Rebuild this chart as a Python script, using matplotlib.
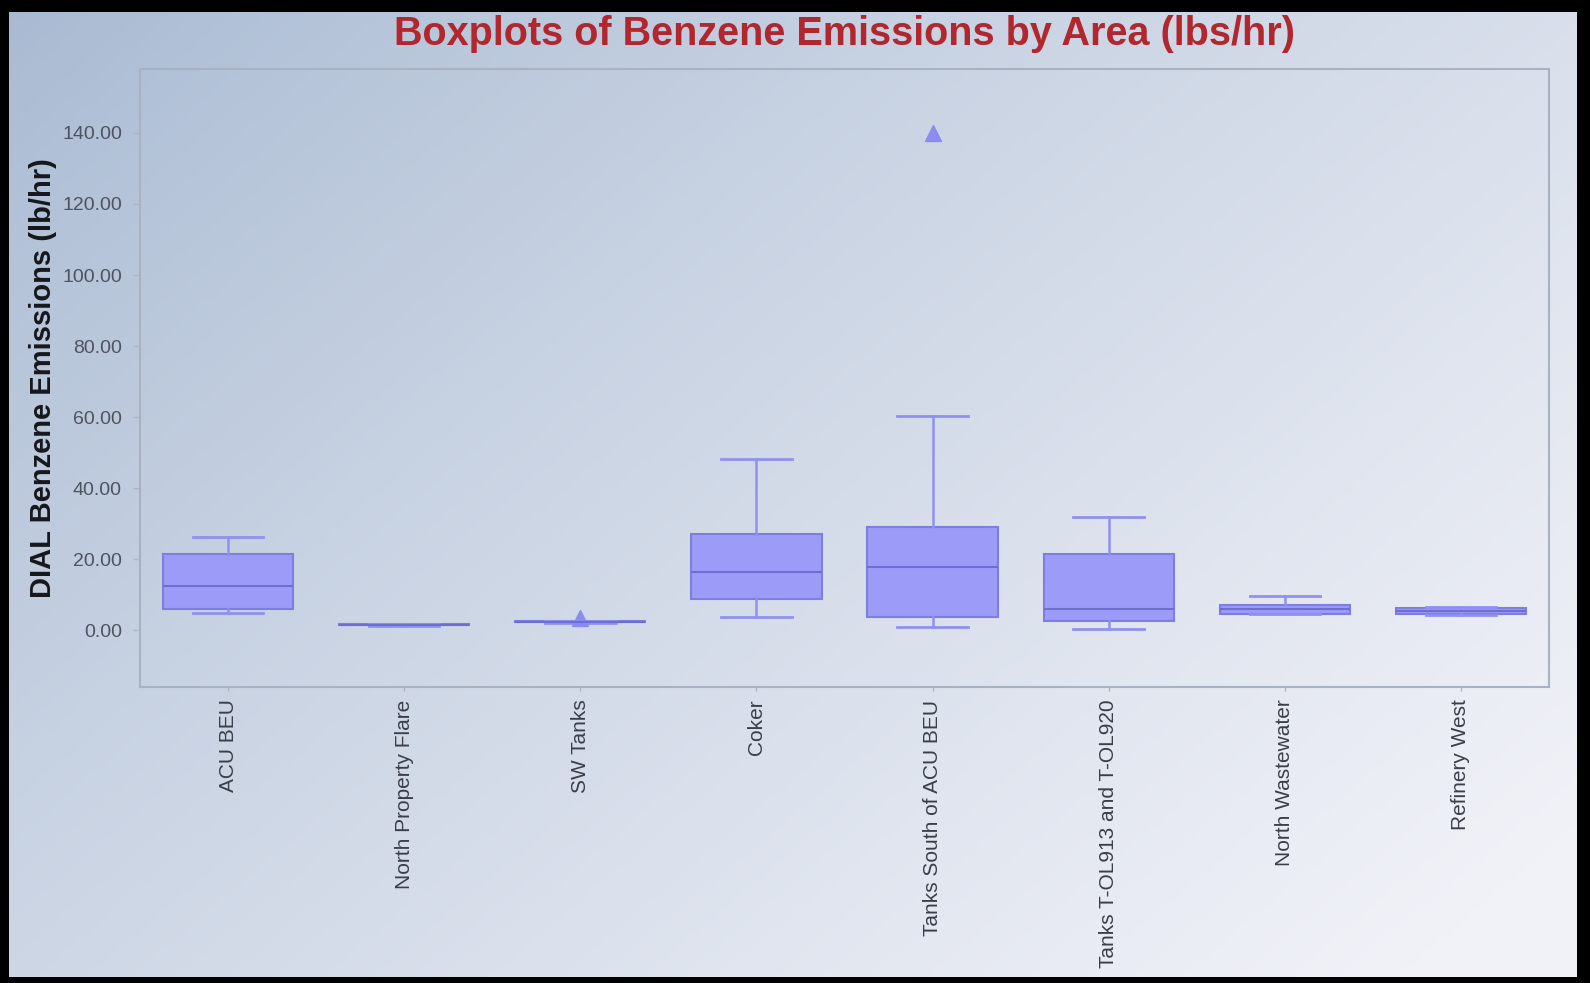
import numpy as np
import matplotlib
matplotlib.use("Agg")
import matplotlib.pyplot as plt

# ---- data ----
areas = ["ACU BEU", "North Property Flare", "SW Tanks", "Coker",
         "Tanks South of ACU BEU", "Tanks T-OL913 and T-OL920",
         "North Wastewater", "Refinery West"]
whisker_low = [4.8, 1.3, 2.1, 3.7, 0.9, 0.3, 4.6, 4.4]
q1 = [6.0, 1.4, 2.2, 8.8, 3.7, 2.6, 4.6, 4.5]
median = [12.5, 1.5, 2.3, 16.3, 17.7, 6.0, 6.0, 5.4]
q3 = [21.4, 1.6, 2.5, 27.1, 29.1, 21.4, 7.1, 6.2]
whisker_high = [26.2, 1.7, 2.6, 48.2, 60.4, 31.9, 9.7, 6.6]
outliers = [[], [], [3.3], [], [140.0], [], [], []]
yticks = [0, 20, 40, 60, 80, 100, 120, 140]

title = "Boxplots of Benzene Emissions by Area (lbs/hr)"
ylabel = "DIAL Benzene Emissions (lb/hr)"

plt.rcParams['font.family'] = ['Liberation Sans', 'DejaVu Sans']

W, H = 1590, 983
fig = plt.figure(figsize=(W / 100, H / 100), dpi=100, facecolor="black")

# gradient background panel (inside a thin black frame)
x0, x1 = 9 / W, 1577 / W
y0, y1 = 1 - 977 / H, 1 - 12 / H
bg = fig.add_axes([x0, y0, x1 - x0, y1 - y0], zorder=0)
bg.set_axis_off()
nx, ny = 300, 200
gx = np.linspace(0, 1, nx)[None, :]
gy = np.linspace(0, 1, ny)[:, None]  # 0 = top
t = np.clip(0.62 * gx + 0.45 * gy, 0, 1) ** 0.85
c_dark = np.array([0xa8, 0xba, 0xd2]) / 255
c_light = np.array([0xf1, 0xf2, 0xf8]) / 255
img = c_dark[None, None, :] * (1 - t[..., None]) + c_light[None, None, :] * t[..., None]
bg.imshow(img, aspect="auto", extent=[0, 1, 0, 1], origin="upper")
bg.set_xlim(0, 1)
bg.set_ylim(0, 1)

# main axes
ax = fig.add_axes([140 / W, 1 - 687 / H, (1549 - 140) / W, (687 - 69) / H], zorder=1)
ax.set_facecolor("none")

stats = []
for i, name in enumerate(areas):
    stats.append(dict(label=name, whislo=whisker_low[i], q1=q1[i], med=median[i],
                      q3=q3[i], whishi=whisker_high[i], fliers=outliers[i]))

box_face = "#9c9cf8"
box_edge = "#7e7ee0"
ax.bxp(stats, positions=range(len(areas)), widths=0.74, capwidths=0.4,
       patch_artist=True, showfliers=True,
       boxprops=dict(facecolor=box_face, edgecolor=box_edge, linewidth=1.5),
       medianprops=dict(color="#6e6ed2", linewidth=1.5),
       whiskerprops=dict(color="#9090f0", linewidth=1.8),
       capprops=dict(color="#9090f0", linewidth=2.0),
       flierprops=dict(marker="^", markersize=11, markerfacecolor="#8b8bf0",
                       markeredgecolor="#8b8bf0"))

ax.set_xlim(-0.5, 7.5)
ax.set_ylim(-16, 158)
ax.set_yticks(yticks)
ax.set_yticklabels([f"{v:.2f}" for v in yticks])
ax.set_xticks(range(len(areas)))
ax.set_xticklabels(areas, rotation=90, va="top", ha="center")

for s in ax.spines.values():
    s.set_color("#a9b2c0")
    s.set_linewidth(1.5)
ax.tick_params(axis="y", colors="#b0b6c0", labelcolor="#4e5360", labelsize=14,
               length=5, width=1, pad=8)
ax.tick_params(axis="x", colors="#b0b6c0", labelcolor="#3a3e48", labelsize=15,
               length=3, width=1, pad=6)

ax.set_ylabel(ylabel, fontsize=21, fontweight="bold", color="#15171c", labelpad=4)
fig.text(845 / W, 1 - 34 / H, title, ha="center", va="center", fontsize=28.5,
         fontweight="bold", color="#b2262e", zorder=3)

fig.savefig("out.png", dpi=100, facecolor=fig.get_facecolor())
